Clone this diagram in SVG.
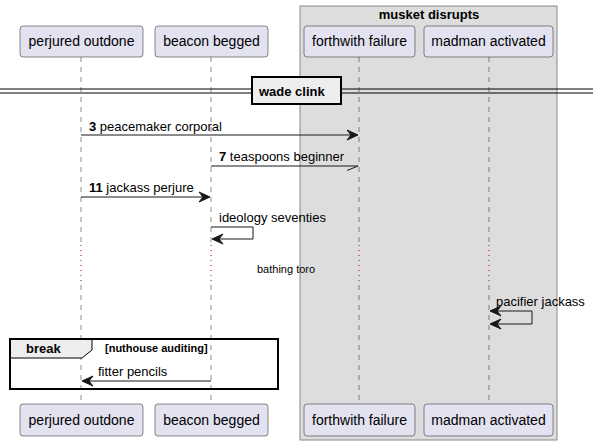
<svg xmlns="http://www.w3.org/2000/svg" width="599" height="446" viewBox="0 0 599 446">
<style>
.p{fill:#E2E2F0;stroke:#181818;stroke-width:0.5}
.pt{font-family:"Liberation Sans",Arial,sans-serif;font-size:14px;fill:#000;text-anchor:middle}
.m{font-family:"Liberation Sans",Arial,sans-serif;font-size:13px;fill:#000}
.b{font-weight:bold}
.life{stroke:#181818;stroke-width:0.5;stroke-dasharray:5,5;fill:none}
.dly{stroke:#A80036;stroke-width:1;stroke-dasharray:1,4;fill:none}
.ln{stroke:#181818;stroke-width:1;fill:none}
.ah{fill:#181818;stroke:#181818;stroke-width:1}
</style>
<rect x="300" y="6" width="257" height="434" fill="#DDDDDD" stroke="#8a8a8a" stroke-width="1"/>
<text x="429" y="19" class="m b" text-anchor="middle">musket disrupts</text>
<g id="lifelines">
<path class="life" d="M81,57V245M81,285V404M211,57V245M211,285V404M359,57V245M359,285V404M489,57V245M489,285V404"/>
<path class="dly" d="M81,245V285M211,245V285M359,245V285M489,245V285"/>
</g>
<g id="p1"><rect class="p" x="20" y="26" width="123" height="31" rx="3"/><text class="pt" x="81.5" y="46">perjured outdone</text></g>
<g id="p2"><rect class="p" x="155" y="26" width="113" height="31" rx="3"/><text class="pt" x="211.5" y="46">beacon begged</text></g>
<g id="p3"><rect class="p" x="304" y="26" width="111" height="31" rx="3"/><text class="pt" x="359.5" y="46">forthwith failure</text></g>
<g id="p4"><rect class="p" x="424" y="26" width="129" height="31" rx="3"/><text class="pt" x="488.5" y="46">madman activated</text></g>
<g id="p1b"><rect class="p" x="20" y="404" width="123" height="32" rx="3"/><text class="pt" x="81.5" y="425">perjured outdone</text></g>
<g id="p2b"><rect class="p" x="155" y="404" width="113" height="32" rx="3"/><text class="pt" x="211.5" y="425">beacon begged</text></g>
<g id="p3b"><rect class="p" x="304" y="404" width="111" height="32" rx="3"/><text class="pt" x="359.5" y="425">forthwith failure</text></g>
<g id="p4b"><rect class="p" x="424" y="404" width="129" height="32" rx="3"/><text class="pt" x="488.5" y="425">madman activated</text></g>
<g id="divider">
<path d="M0,89H593M0,93H593" stroke="#000" stroke-width="1.2" fill="none"/>
<rect x="252" y="77" width="89" height="27" fill="#EEEEEE" stroke="#000" stroke-width="2"/>
<text x="259" y="96" class="m b">wade clink</text>
</g>
<g id="connectors">
<path class="ln" d="M81,135H357"/>
<polygon class="ah" points="347,130 358,135 347,140 351,135"/>
<path class="ln" d="M211,166H358M347,170.5L358,166"/>
<path class="ln" d="M81,197H209"/>
<polygon class="ah" points="199,192 210,197 199,202 203,197"/>
<path class="ln" d="M211,227H253V239H213"/>
<polygon class="ah" points="223,234 212,239 223,244 219,239"/>
<path class="ln" d="M491,311H532V324H491"/>
<polygon class="ah" points="501,306 490,311 501,316 497,311"/>
<polygon class="ah" points="501,319 490,324 501,329 497,324"/>
<path class="ln" d="M211,381H83"/>
<polygon class="ah" points="93,376 82,381 93,386 89,381"/>
</g>
<g id="labels">
<text x="89" y="131" class="m"><tspan class="b">3</tspan> peacemaker corporal</text>
<text x="219" y="161" class="m"><tspan class="b">7</tspan> teaspoons beginner</text>
<text x="89" y="192" class="m"><tspan class="b">11</tspan> jackass perjure</text>
<text x="219" y="222" class="m">ideology seventies</text>
<text x="257" y="273" font-family="Liberation Sans,Arial,sans-serif" font-size="11">bathing toro</text>
<text x="496" y="306" class="m">pacifier jackass</text>
<text x="98" y="376" class="m">fitter pencils</text>
</g>
<g id="break">
<path d="M10,339H92V350L82,358H10Z" fill="#EEEEEE" stroke="#000" stroke-width="1"/>
<rect x="10" y="339" width="268" height="50" fill="none" stroke="#000" stroke-width="2"/>
<text x="26" y="353" class="m b">break</text>
<text x="105" y="352" font-family="Liberation Sans,Arial,sans-serif" font-size="11" font-weight="bold">[nuthouse auditing]</text>
</g>
</svg>
